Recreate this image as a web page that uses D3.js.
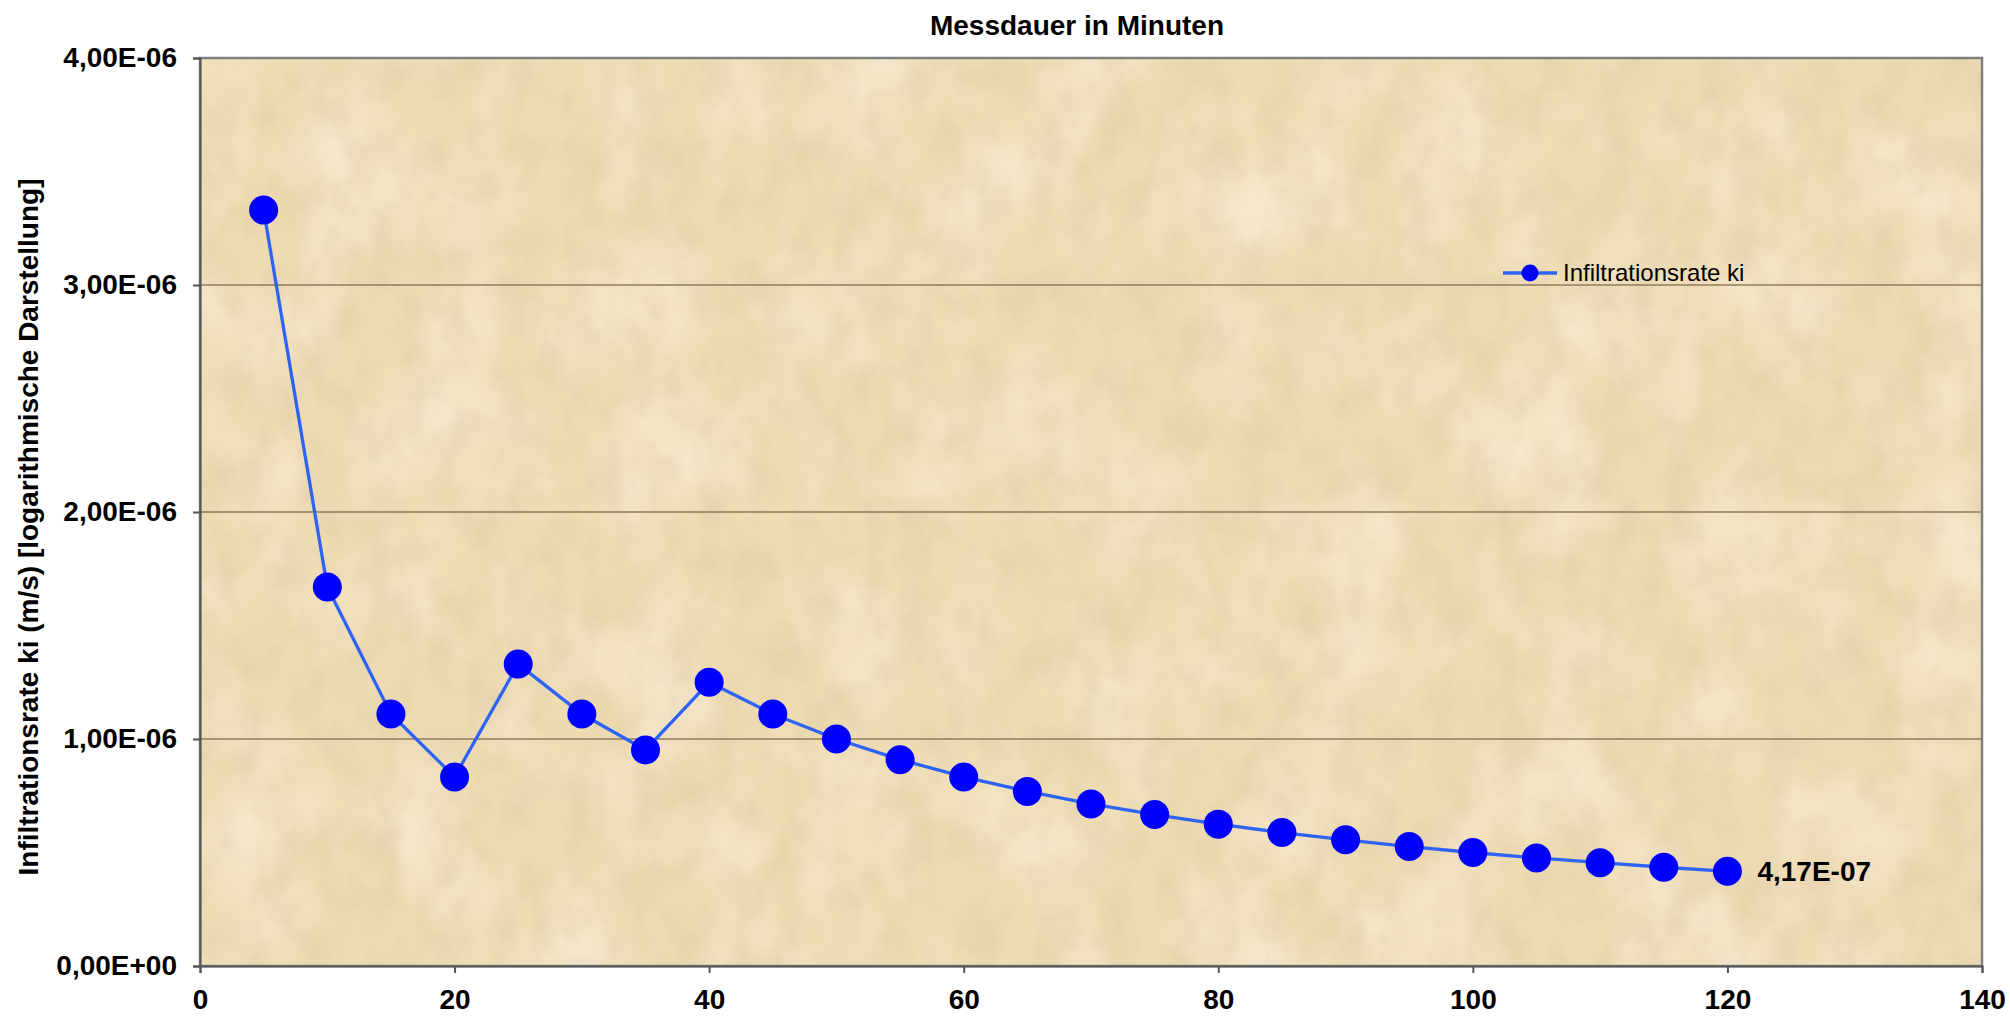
<!DOCTYPE html>
<html>
<head>
<meta charset="utf-8">
<script src="https://cdn.jsdelivr.net/npm/d3@7"></script>
<style>
  html, body { margin: 0; padding: 0; background: #ffffff; }
  svg { display: block; }
</style>
</head>
<body>
<div id="chart"></div>
<script>
// ---- data ----
const minutes = [5, 10, 15, 20, 25, 30, 35, 40, 45, 50, 55, 60, 65, 70, 75, 80, 85, 90, 95, 100, 105, 110, 115, 120];
const rates = [3.33e-6, 1.67e-6, 1.11e-6, 8.33e-7, 1.33e-6, 1.11e-6, 9.52e-7, 1.25e-6, 1.11e-6, 1.00e-6,
               9.09e-7, 8.33e-7, 7.69e-7, 7.14e-7, 6.67e-7, 6.25e-7, 5.88e-7, 5.56e-7, 5.26e-7, 5.00e-7,
               4.76e-7, 4.55e-7, 4.35e-7, 4.17e-7];
const xTicks = [0, 20, 40, 60, 80, 100, 120, 140];
const yTicks = [0, 1e-6, 2e-6, 3e-6, 4e-6];
const yTickLabels = ["0,00E+00", "1,00E-06", "2,00E-06", "3,00E-06", "4,00E-06"];
const seriesName = "Infiltrationsrate ki";
const lastLabel = "4,17E-07";
const titleText = "Messdauer in Minuten";
const yTitle = "Infiltrationsrate ki (m/s) [logarithmische Darstellung]";

// ---- layout ----
const W = 2010, H = 1016;
const plot = { left: 200, right: 1982, top: 58, bottom: 966 };

const svg = d3.select("#chart").append("svg").attr("width", W).attr("height", H);

const x = d3.scaleLinear().domain([0, 140]).range([plot.left, plot.right]);
const y = d3.scaleLinear().domain([0, 4e-6]).range([plot.bottom, plot.top]);

// texture filters
const defs = svg.append("defs");
const f = defs.append("filter").attr("id", "sand").attr("x", 0).attr("y", 0).attr("width", 1).attr("height", 1);
f.append("feTurbulence").attr("type", "fractalNoise").attr("baseFrequency", "0.03 0.022").attr("numOctaves", 4).attr("seed", 7).attr("result", "noise");
f.append("feColorMatrix").attr("in", "noise").attr("type", "matrix")
  .attr("values", "0 0 0 0 0.66  0 0 0 0 0.52  0 0 0 0 0.32  0 0 0 -0.6 0.38")
  .attr("result", "tint");
f.append("feComposite").attr("in", "tint").attr("in2", "SourceGraphic").attr("operator", "in");

const f2 = defs.append("filter").attr("id", "light").attr("x", 0).attr("y", 0).attr("width", 1).attr("height", 1);
f2.append("feTurbulence").attr("type", "fractalNoise").attr("baseFrequency", "0.01 0.008").attr("numOctaves", 3).attr("seed", 3).attr("result", "noise");
f2.append("feColorMatrix").attr("in", "noise").attr("type", "matrix")
  .attr("values", "0 0 0 0 1  0 0 0 0 0.95  0 0 0 0 0.86  1.0 0 0 0 -0.42")
  .attr("result", "tint");
f2.append("feComposite").attr("in", "tint").attr("in2", "SourceGraphic").attr("operator", "in");

// background
const bg = (fill, filter) => {
  const r = svg.append("rect").attr("x", plot.left).attr("y", plot.top)
    .attr("width", plot.right - plot.left).attr("height", plot.bottom - plot.top)
    .attr("fill", fill);
  if (filter) r.attr("filter", filter);
};
bg("#eedbb3");
bg("#000", "url(#light)");
bg("#000", "url(#sand)");

// gridlines
svg.append("g").selectAll("line").data(yTicks.filter(d => d > 0 && d < 4e-6)).join("line")
  .attr("x1", plot.left).attr("x2", plot.right)
  .attr("y1", d => y(d)).attr("y2", d => y(d))
  .attr("stroke", "#8c7b5e").attr("stroke-width", 1.6);

// border
svg.append("rect").attr("x", plot.left).attr("y", plot.top)
  .attr("width", plot.right - plot.left).attr("height", plot.bottom - plot.top)
  .attr("fill", "none").attr("stroke", "#808080").attr("stroke-width", 2.5);

const font = "'Liberation Sans', Arial, sans-serif";

// y axis
const yAxis = d3.axisLeft(y).tickValues(yTicks).tickSize(7).tickPadding(16)
  .tickFormat((d, i) => yTickLabels[i]);
const gy = svg.append("g").attr("transform", `translate(${plot.left},0)`).call(yAxis);
gy.select(".domain").attr("stroke", "#555").attr("stroke-width", 2);
gy.selectAll(".tick line").attr("stroke", "#555").attr("stroke-width", 2);
gy.selectAll(".tick text").attr("font-family", font).attr("font-size", 28).attr("font-weight", "bold").attr("fill", "#000");

// x axis
const xAxis = d3.axisBottom(x).tickValues(xTicks).tickSize(7).tickPadding(16).tickFormat(d3.format("d"));
const gx = svg.append("g").attr("transform", `translate(0,${plot.bottom})`).call(xAxis);
gx.select(".domain").attr("stroke", "#555").attr("stroke-width", 2);
gx.selectAll(".tick line").attr("stroke", "#555").attr("stroke-width", 2);
gx.selectAll(".tick text").attr("font-family", font).attr("font-size", 28).attr("font-weight", "bold").attr("fill", "#000");

// title
svg.append("text").attr("x", 1077).attr("y", 35).attr("text-anchor", "middle")
  .attr("font-family", font).attr("font-size", 28).attr("font-weight", "bold").text(titleText);

// y title
svg.append("text").attr("transform", `translate(38,527) rotate(-90)`).attr("text-anchor", "middle")
  .attr("font-family", font).attr("font-size", 28).attr("font-weight", "bold").text(yTitle);

// line + markers
const pts = minutes.map((m, i) => [m, rates[i]]);
svg.append("path").datum(pts)
  .attr("d", d3.line().x(d => x(d[0])).y(d => y(d[1])))
  .attr("fill", "none").attr("stroke", "#2e64f5").attr("stroke-width", 3.3);
svg.append("g").selectAll("circle").data(pts).join("circle")
  .attr("cx", d => x(d[0])).attr("cy", d => y(d[1])).attr("r", 14.5)
  .attr("fill", "#0000ff");

// last data label
const last = pts[pts.length - 1];
svg.append("text").attr("x", x(last[0]) + 30).attr("y", y(last[1]) + 10)
  .attr("font-family", font).attr("font-size", 28).attr("font-weight", "bold").text(lastLabel);

// legend
const lg = svg.append("g");
lg.append("line").attr("x1", 1503).attr("x2", 1557).attr("y1", 273).attr("y2", 273)
  .attr("stroke", "#2e64f5").attr("stroke-width", 3.3);
lg.append("circle").attr("cx", 1530).attr("cy", 273).attr("r", 8.5).attr("fill", "#0000ff");
lg.append("text").attr("x", 1563).attr("y", 281).attr("font-family", font).attr("font-size", 24)
  .attr("fill", "#000").text(seriesName);
</script>
</body>
</html>
